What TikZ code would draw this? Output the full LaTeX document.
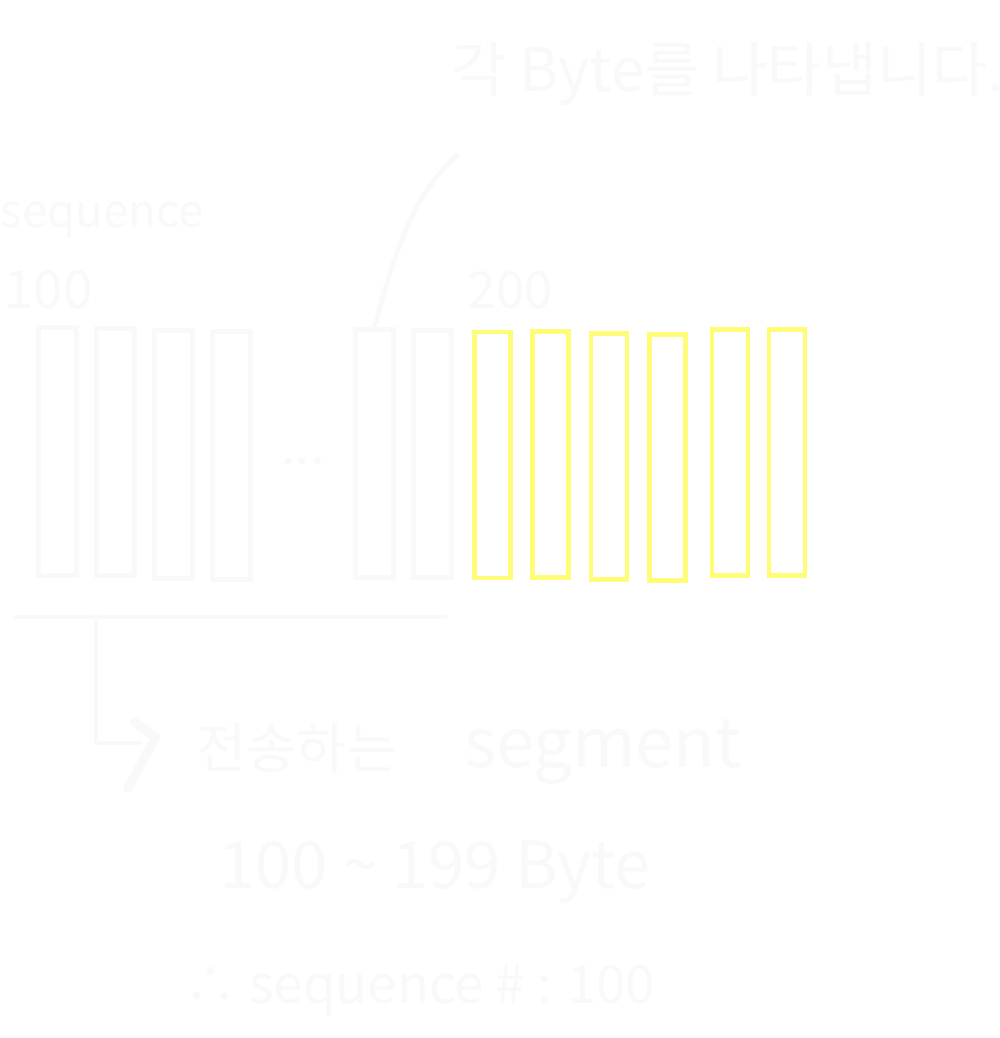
\documentclass[tikz,border=0pt]{standalone}
\usepackage{fontspec}
\setmainfont{Noto Sans CJK KR}
\usepackage{tikz}
\usetikzlibrary{positioning,calc}
\usepackage{xcolor}
\definecolor{chalk}{RGB}{249,249,249}
\definecolor{hlyellow}{RGB}{255,253,120}
\newcommand{\fs}[1]{\fontsize{#1}{#1}\selectfont}

\begin{document}
\begin{tikzpicture}[
    x=0.01cm, y=-0.01cm,
    bytebox/.style={draw=chalk, line width=1.4pt, minimum width=0.375cm,
                    minimum height=2.47cm, inner sep=0pt},
    segbox/.style={bytebox, draw=hlyellow, line width=1.35pt, minimum width=0.36cm,
                   minimum height=2.46cm},
    hand/.style={text=chalk, inner sep=0pt},
    pen/.style={draw=chalk, line width=1.4pt, line cap=round, line join=round}
]
\useasboundingbox[fill=white] (0,0) rectangle (1000,1038);

% the bytes of the sequence
\node[bytebox] (b1) at (57.5,451.5) {};
\node[bytebox] (b2) at (115.5,452) {};
\node[bytebox] (b3) at (173.5,454.5) {};
\node[bytebox] (b4) at (231.5,455.5) {};
\node[hand, font=\fs{15}] (gap) at (303,462) {...};
\node[bytebox] (b5) at (374.5,453.5) {};
\node[bytebox] (b6) at (432.5,454) {};

% the bytes of the next segment
\node[segbox] (s1) at (492.5,455) {};
\node[segbox] (s2) at (550.5,454.5) {};
\node[segbox] (s3) at (609,456.5) {};
\node[segbox] (s4) at (667.5,457.5) {};
\node[segbox] (s5) at (730,452.5) {};
\node[segbox] (s6) at (787,452.5) {};

% labels
\node[hand, font=\fs{17}] (note) at (728,74) {각 Byte를 나타냅니다.};
\node[hand, font=\fs{13}, anchor=west] (seqword) at (0,220) {sequence};
\node[hand, font=\fs{15}, anchor=west] (start) at (4,290) {100};
\node[hand, font=\fs{14.5}, anchor=west] (next) at (467,290) {200};

\coordinate (tip) at (457,155);
\draw[pen] (tip) .. controls (420,190) and (400,230) .. (b5.north);

% segment bracket
\coordinate (ul) at (16,617);
\coordinate (ur) at (445,617);
\coordinate (uc) at (96,617);
\coordinate (corner) at (96,743);
\coordinate (hook) at (140,743);
\draw[pen] (ul) -- (ur);
\draw[pen] (uc) -- (corner) -- (hook);
\draw[pen, line width=2.6pt] (134,722) -- (156,737) -- (128,788);

\node[hand, font=\fs{15.5}] (send) at (297,748) {전송하는};
\node[hand, font=\fs{19.5}] (segword) at (603,752) {segment};
\node[hand, font=\fs{18.5}] (range) at (435,872) {100 \textasciitilde\ 199 Byte};
\node[hand, font=\fs{15}] (result) at (420,990) {∴ sequence \# : 100};

\end{tikzpicture}
\end{document}
